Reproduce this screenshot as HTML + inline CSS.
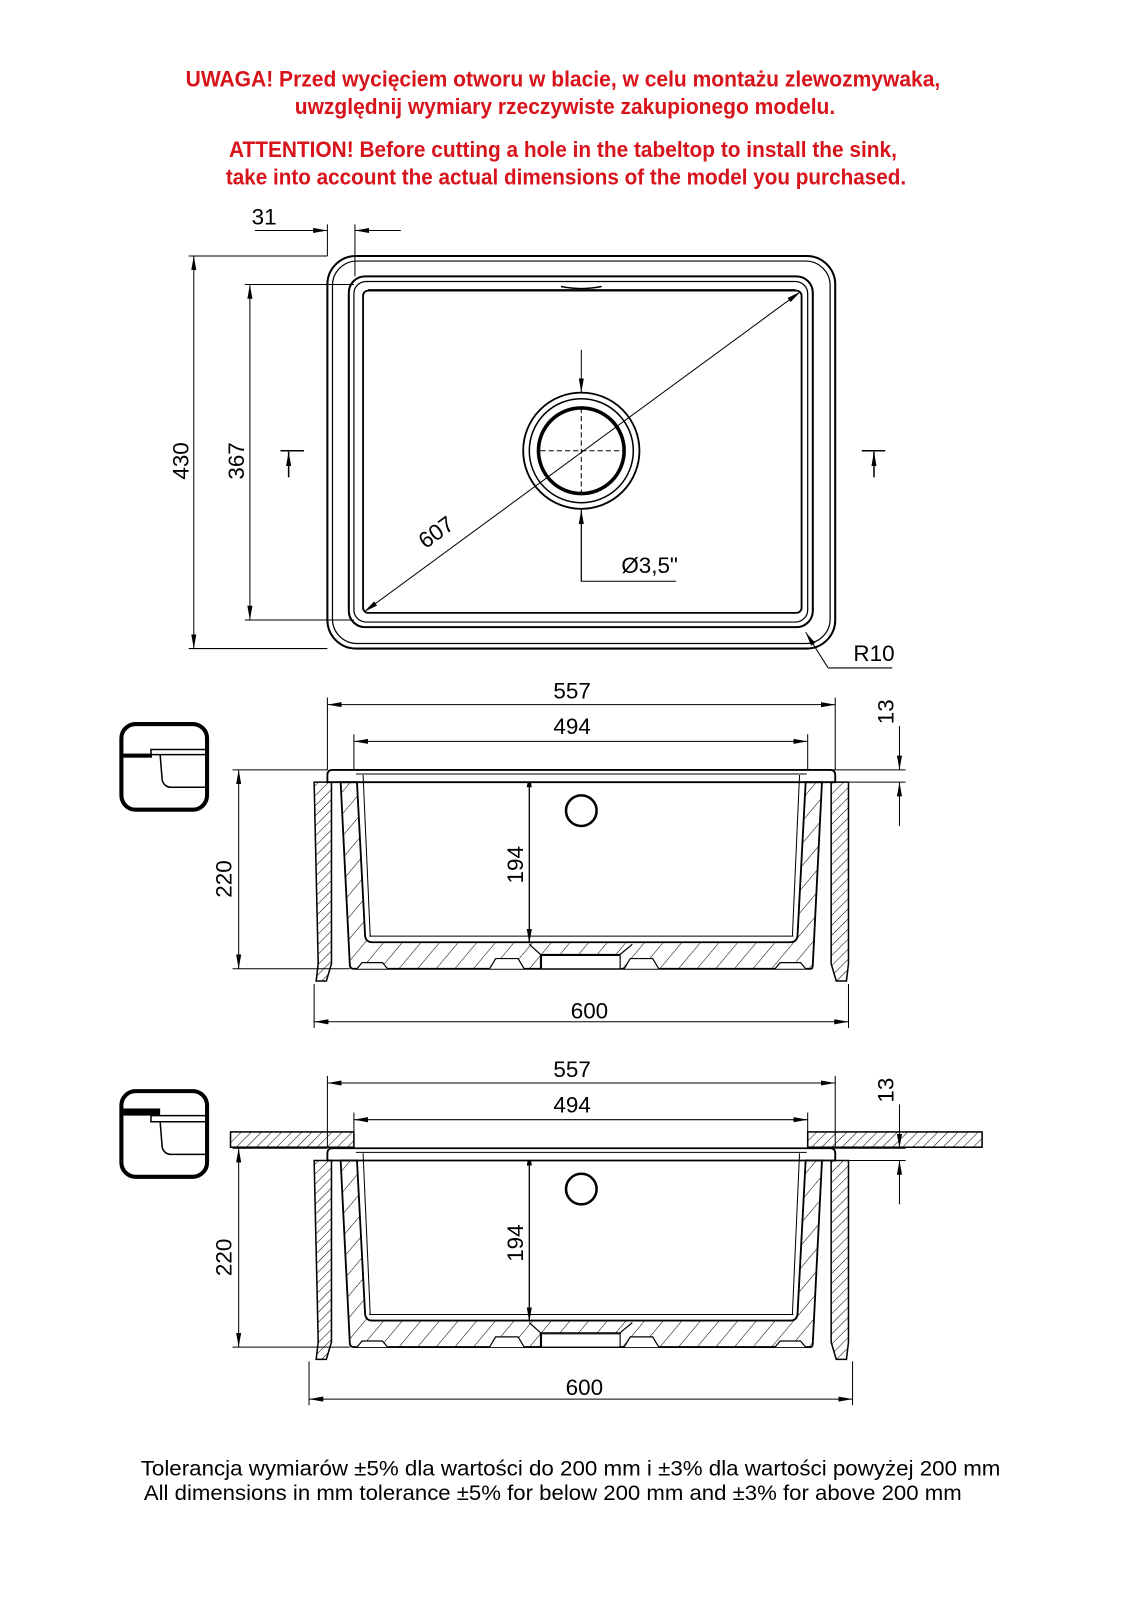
<!DOCTYPE html>
<html><head><meta charset="utf-8"><style>
html,body{margin:0;padding:0;background:#fff;}
svg{display:block;}
text{font-family:"Liberation Sans Narrow","Liberation Sans",sans-serif;}
</style></head><body>
<svg width="1131" height="1600" viewBox="0 0 1109 1569" xmlns="http://www.w3.org/2000/svg">
<defs>
<marker id="a" viewBox="0 0 14 6" refX="14" refY="3" markerWidth="14" markerHeight="6" markerUnits="userSpaceOnUse" orient="auto-start-reverse"><path d="M0,0.5 L14,3 L0,5.5 Z" fill="#000"/></marker>
<pattern id="h" width="7" height="7" patternUnits="userSpaceOnUse" patternTransform="rotate(45)"><line x1="0" y1="0" x2="0" y2="7" stroke="#000" stroke-width="1"/></pattern>
<pattern id="h2" width="14" height="14" patternUnits="userSpaceOnUse" patternTransform="rotate(40)"><line x1="0" y1="0" x2="0" y2="14" stroke="#000" stroke-width="1"/></pattern>
<g id="sec" fill="none" stroke="#000">
  <line x1="321" y1="684" x2="321" y2="755" stroke-width="1"/>
  <line x1="819" y1="684" x2="819" y2="755" stroke-width="1"/>
  <line x1="321" y1="691" x2="819" y2="691" stroke-width="1" marker-start="url(#a)" marker-end="url(#a)"/>
  <line x1="347" y1="720" x2="347" y2="755" stroke-width="1"/>
  <line x1="792" y1="720" x2="792" y2="755" stroke-width="1"/>
  <line x1="347" y1="727" x2="792" y2="727" stroke-width="1" marker-start="url(#a)" marker-end="url(#a)"/>
  <line x1="800" y1="755" x2="888" y2="755" stroke-width="1"/>
  <line x1="800" y1="767" x2="888" y2="767" stroke-width="1"/>
  <line x1="882" y1="712" x2="882" y2="755" stroke-width="1" marker-end="url(#a)"/>
  <line x1="882" y1="810" x2="882" y2="767" stroke-width="1" marker-end="url(#a)"/>
  <line x1="228" y1="755" x2="321" y2="755" stroke-width="1"/>
  <line x1="228" y1="950" x2="343" y2="950" stroke-width="1"/>
  <line x1="234" y1="755" x2="234" y2="950" stroke-width="1" marker-start="url(#a)" marker-end="url(#a)"/>
  <line x1="519" y1="758" x2="519" y2="925" stroke-width="1.3" marker-start="url(#a)" marker-end="url(#a)"/>
  <path d="M326,755 H814 Q819,755 819,760 V767 H334 V767 H321 V760 Q321,755 326,755 Z" stroke-width="1.8" fill="#fff"/>
  <line x1="349" y1="759" x2="791" y2="759" stroke-width="1"/>
  <path d="M334,767 L343,946 Q343,950 347,950 L795,950 Q797,950 797,946 L806,767 H790 L782,918 Q781,924 775,924 H365 Q359,924 358,918 L350,767 Z" fill="url(#h2)" stroke-width="1.8"/>
  <path d="M350,767 L358,918 Q359,924 365,924 H775 Q781,924 782,918 L790,767" stroke-width="1.2"/>
  <path d="M356,760 L363,918 M784,760 L777,918" stroke-width="1"/>
  <line x1="362" y1="918" x2="778" y2="918" stroke-width="1"/>
  <path d="M350,950 L355,944 H375 L380,950 M480,950 L486,940 H508 L514,950 M612,950 L618,940 H640 L646,950 M760,950 L765,944 H785 L790,950" stroke-width="1.2" fill="#fff"/>
  <path d="M519,926 L530,936 H608 L620,926 M530,936 V950 M608,936 V950" stroke-width="1.2"/>
  <rect x="531" y="937" width="77" height="13" fill="#fff" stroke-width="1"/>
  <path d="M308,767 H325 V945 L320,962 H310 L312,945 Z" fill="url(#h)" stroke-width="1.5"/>
  <path d="M815,767 H832 V945 L830,962 H820 L815,945 Z" fill="url(#h)" stroke-width="1.5"/>
  <circle cx="570" cy="795" r="15" stroke-width="2.5"/>
</g>
</defs>

<g fill="#d7141b" font-size="22" text-anchor="middle" font-weight="bold">
<text x="552" y="85" textLength="740" lengthAdjust="spacingAndGlyphs">UWAGA! Przed wycięciem otworu w blacie, w celu montażu zlewozmywaka,</text>
<text x="554" y="112" textLength="530" lengthAdjust="spacingAndGlyphs">uwzględnij wymiary rzeczywiste zakupionego modelu.</text>
<text x="552" y="154" textLength="655" lengthAdjust="spacingAndGlyphs">ATTENTION! Before cutting a hole in the tabeltop to install the sink,</text>
<text x="555" y="181" textLength="667" lengthAdjust="spacingAndGlyphs">take into account the actual dimensions of the model you purchased.</text>
</g>

<g fill="none" stroke="#000">
  <rect x="321" y="251" width="498" height="385" rx="28" stroke-width="2"/>
  <rect x="326" y="256" width="488" height="375" rx="24" stroke-width="1.2"/>
  <rect x="342" y="271" width="455" height="344" rx="16" stroke-width="2"/>
  <rect x="347" y="276" width="445" height="334" rx="12" stroke-width="1.2"/>
  <rect x="356" y="285" width="430" height="316" rx="5" stroke-width="1.8"/>
  <path d="M361,284 H780" stroke-width="1"/>
  <path d="M550,281 Q570,285 590,281" stroke-width="1.5"/>
  <circle cx="570" cy="442" r="57" stroke-width="1.8"/>
  <circle cx="570" cy="442" r="51" stroke-width="1.5"/>
  <circle cx="570" cy="442" r="42" stroke-width="3.5"/>
  <line x1="530" y1="442" x2="612" y2="442" stroke-width="1" stroke-dasharray="5,3"/>
  <line x1="570" y1="400" x2="570" y2="484" stroke-width="1" stroke-dasharray="5,3"/>
  <line x1="357" y1="600" x2="785" y2="286" stroke-width="1" marker-start="url(#a)" marker-end="url(#a)"/>
  <line x1="570" y1="343" x2="570" y2="385" stroke-width="1" marker-end="url(#a)"/>
  <line x1="570" y1="570" x2="570" y2="500" stroke-width="1" marker-end="url(#a)"/>
  <polyline points="570,500 570,570 663,570" stroke-width="1"/>
  <line x1="812" y1="655" x2="790" y2="620" stroke-width="1" marker-end="url(#a)"/>
  <line x1="812" y1="655" x2="875" y2="655" stroke-width="1"/>
  <line x1="185" y1="251" x2="321" y2="251" stroke-width="1"/>
  <line x1="185" y1="636" x2="321" y2="636" stroke-width="1"/>
  <line x1="190" y1="251" x2="190" y2="636" stroke-width="1" marker-start="url(#a)" marker-end="url(#a)"/>
  <line x1="240" y1="279" x2="347" y2="279" stroke-width="1"/>
  <line x1="240" y1="608" x2="347" y2="608" stroke-width="1"/>
  <line x1="245" y1="279" x2="245" y2="608" stroke-width="1" marker-start="url(#a)" marker-end="url(#a)"/>
  <line x1="321" y1="220" x2="321" y2="251" stroke-width="1"/>
  <line x1="348" y1="220" x2="348" y2="271" stroke-width="1"/>
  <line x1="250" y1="226" x2="321" y2="226" stroke-width="1" marker-end="url(#a)"/>
  <line x1="393" y1="226" x2="348" y2="226" stroke-width="1" marker-end="url(#a)"/>
  <line x1="275" y1="442" x2="298" y2="442" stroke-width="1.5"/>
  <line x1="283" y1="468" x2="283" y2="443" stroke-width="1.5" marker-end="url(#a)"/>
  <line x1="845" y1="442" x2="868" y2="442" stroke-width="1.5"/>
  <line x1="857" y1="468" x2="857" y2="443" stroke-width="1.5" marker-end="url(#a)"/>
</g>
<g font-size="22" fill="#000">
  <text x="259" y="220" text-anchor="middle">31</text>
  <text transform="translate(185,452) rotate(-90)" text-anchor="middle">430</text>
  <text transform="translate(239,452) rotate(-90)" text-anchor="middle">367</text>
  <text transform="translate(432,528) rotate(-36)" text-anchor="middle">607</text>
  <text x="637" y="562" text-anchor="middle">Ø3,5"</text>
  <text x="857" y="648" text-anchor="middle">R10</text>
</g>

<use href="#sec"/>
<g font-size="22" fill="#000" text-anchor="middle">
  <text x="561" y="685">557</text>
  <text x="561" y="720">494</text>
  <text transform="translate(876,698) rotate(-90)">13</text>
  <text transform="translate(227,862) rotate(-90)">220</text>
  <text transform="translate(513,848) rotate(-90)">194</text>
  <text x="578" y="999">600</text>
</g>
<g fill="none" stroke="#000">
  <line x1="308" y1="965" x2="308" y2="1008" stroke-width="1"/>
  <line x1="832" y1="965" x2="832" y2="1008" stroke-width="1"/>
  <line x1="308" y1="1002" x2="832" y2="1002" stroke-width="1" marker-start="url(#a)" marker-end="url(#a)"/>
  <rect x="119" y="710" width="84" height="84" rx="14" stroke-width="4"/>
  <path d="M119,740 H148 V735 H203 M148,740 H203 M157,740 L159,765 Q161,772 168,772 H203" stroke-width="1.5"/>
  <rect x="121" y="739" width="28" height="4" fill="#000" stroke="none"/>
</g>

<g transform="translate(0,371)"><use href="#sec"/></g>
<g fill="none" stroke="#000">
  <rect x="226" y="1110" width="121" height="15" fill="url(#h)" stroke-width="1.5"/>
  <rect x="792" y="1110" width="171" height="15" fill="url(#h)" stroke-width="1.5"/>
  <line x1="303" y1="1335" x2="303" y2="1378" stroke-width="1"/>
  <line x1="836" y1="1335" x2="836" y2="1378" stroke-width="1"/>
  <line x1="303" y1="1372" x2="836" y2="1372" stroke-width="1" marker-start="url(#a)" marker-end="url(#a)"/>
  <rect x="119" y="1070" width="84" height="84" rx="14" stroke-width="4"/>
  <path d="M148,1094 H203 M148,1094 V1100 H203 M157,1100 L159,1125 Q161,1132 168,1132 H203" stroke-width="1.5"/>
  <rect x="121" y="1087" width="36" height="7" fill="#000" stroke="none"/>
</g>
<g font-size="22" fill="#000" text-anchor="middle">
  <text x="561" y="1056">557</text>
  <text x="561" y="1091">494</text>
  <text transform="translate(876,1069) rotate(-90)">13</text>
  <text transform="translate(227,1233) rotate(-90)">220</text>
  <text transform="translate(513,1219) rotate(-90)">194</text>
  <text x="573" y="1368">600</text>
</g>

<g font-size="21" fill="#000" font-family="Liberation Sans, sans-serif">
  <text x="138" y="1447" textLength="843" lengthAdjust="spacingAndGlyphs">Tolerancja wymiarów ±5% dla wartości do 200 mm i ±3% dla wartości powyżej 200 mm</text>
  <text x="141" y="1471" textLength="802" lengthAdjust="spacingAndGlyphs">All dimensions in mm tolerance ±5% for below 200 mm and ±3% for above 200 mm</text>
</g>
</svg>
</body></html>
